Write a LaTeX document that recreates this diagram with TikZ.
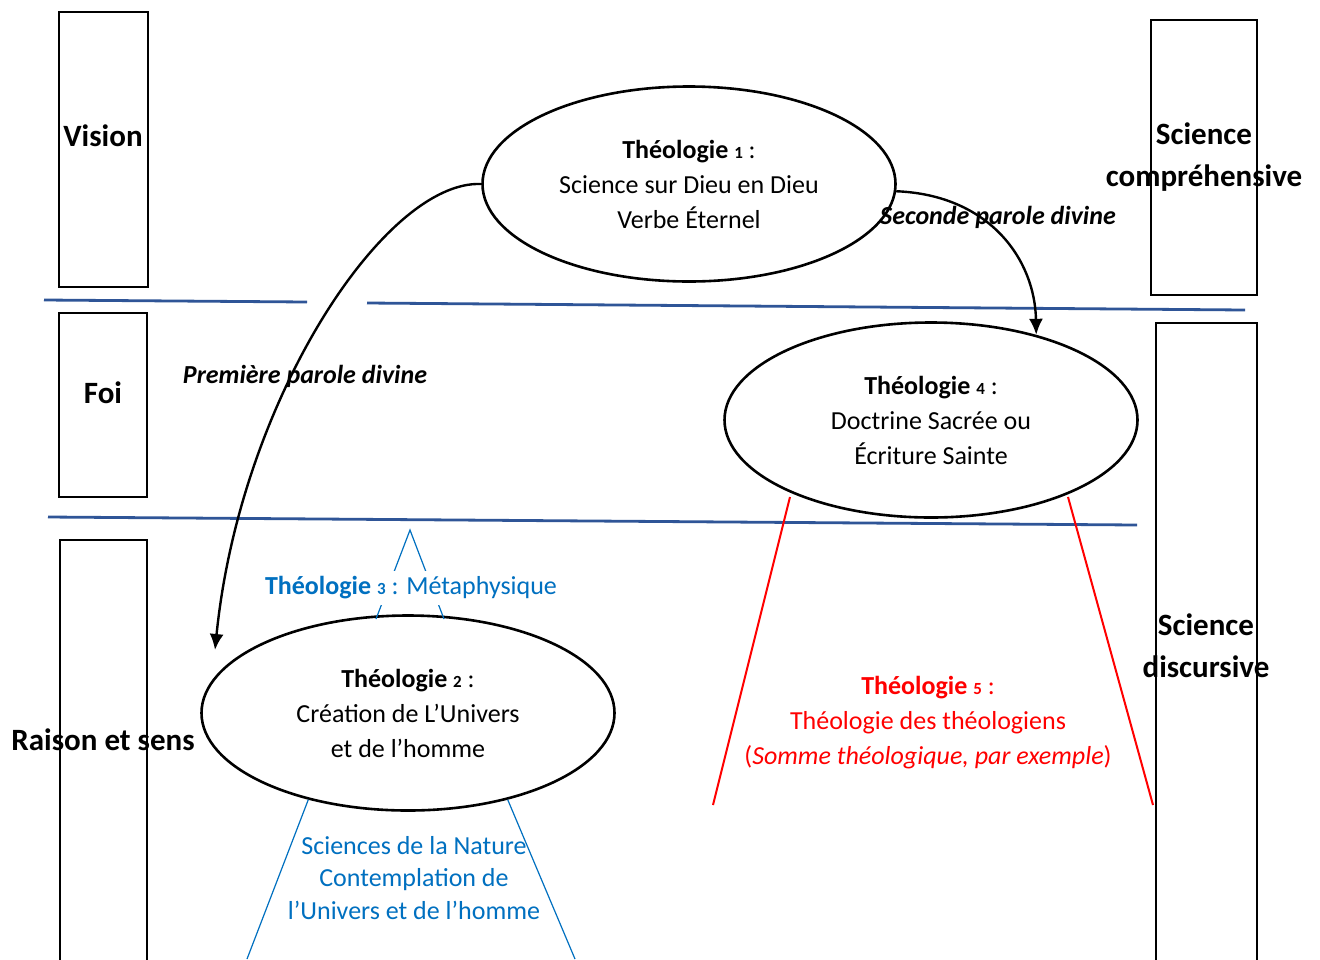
\documentclass[tikz,border=0pt]{standalone}
\usepackage{fontspec}
\setmainfont{Carlito}
\usetikzlibrary{shapes.geometric,arrows.meta}

\definecolor{lineblue}{RGB}{47,85,151}
\definecolor{textblue}{RGB}{0,112,192}
\newcommand{\theonum}[1]{{\fontsize{8.5}{10}\selectfont\bfseries #1}}

\tikzset{
  levelbox/.style = {draw, line width=1pt, rectangle, inner sep=0pt},
  levellabel/.style = {font=\fontsize{15.5}{21}\selectfont\bfseries, align=center, inner sep=0pt},
  theo/.style = {draw, line width=1.3pt, ellipse, minimum width=206.5pt, minimum height=97.5pt, align=center, font=\fontsize{13}{17.5}\selectfont},
  divider/.style = {draw=lineblue, line width=1.4pt},
  parole/.style = {font=\fontsize{13}{17.5}\selectfont\bfseries\itshape, inner sep=0pt},
  wordarrow/.style = {line width=1.2pt, -{Latex[length=8pt,width=7pt]}},
  branch/.style = {font=\fontsize{13}{16.3}\selectfont, align=center}
}

\begin{document}
\begin{tikzpicture}[x=0.5pt, y=-0.5pt]
\clip (0,0) rectangle (1320,959);
\fill[white] (0,0) rectangle (1320,959);

% levels on the left and on the right
\node[levelbox, minimum width=44.5pt, minimum height=137.5pt] (vision) at (103.5,149.5) {};
\node[levelbox, minimum width=44pt, minimum height=92pt] (foi) at (103,405) {};
\node[levelbox, minimum width=43.5pt, minimum height=220pt] (raison) at (103.5,760) {};
\node[levelbox, minimum width=53pt, minimum height=137.5pt] (scomp) at (1204,157.5) {};
\node[levelbox, minimum width=50.5pt, minimum height=328.5pt] (sdisc) at (1206.5,651.5) {};

\node[levellabel] (visionlabel) at (103,136) {Vision};
\node[levellabel] (foilabel) at (103,393) {Foi};
\node[levellabel] (raisonlabel) at (103,740) {Raison et sens};
\node[levellabel] (scomplabel) at (1204,157) {Science\\compréhensive};
\node[levellabel] (sdisclabel) at (1206,646) {Science\\discursive};

% dividers
\draw[divider] (44,300) -- (307,302);
\draw[divider] (367,303) -- (1245,310);
\draw[divider] (48,517) -- (1137,525);

% the theologies
\node[theo] (t1) at (689,184) {\textbf{Théologie} \theonum{1} :\\Science sur Dieu en Dieu\\Verbe Éternel};
\node[theo] (t4) at (931,420) {\textbf{Théologie} \theonum{4} :\\Doctrine Sacrée ou\\Écriture Sainte};
\node[theo] (t2) at (408,713) {\textbf{Théologie} \theonum{2} :\\Création de L’Univers\\et de l’homme};

% the two words
\coordinate (p1end) at (215,650);
\draw[wordarrow] (t1.west) .. controls (385,180) and (240,400) .. (p1end);
\draw[wordarrow] (t1.358) .. controls (990,195) and (1035,260) .. (t4.39);
\node[parole] (premiere) at (305,376) {Première parole divine};
\node[parole] (seconde) at (998,217) {Seconde parole divine};

% metaphysics above
\coordinate (apex) at (410,530);
\draw[textblue, line width=0.6pt] (376,619) -- (apex) -- (444,619);
\node[branch, text=textblue, fill=white, inner sep=3pt] (t3) at (411,588) {\textbf{Théologie} \theonum{3} : Métaphysique};

% sciences of nature below
\draw[textblue, line width=0.6pt] (t2.221) -- (247,959);
\draw[textblue, line width=0.6pt] (t2.319) -- (575,959);
\node[branch, text=textblue] (nature) at (414,878) {Sciences de la Nature\\Contemplation de\\l’Univers et de l’homme};

% theology of the theologians
\draw[red, line width=1pt] (790,497) -- (713,805);
\draw[red, line width=1pt] (1068,497) -- (1153,805);
\node[theo, draw=none, text=red] (t5) at (928,723) {\textbf{Théologie} \theonum{5} :\\Théologie des théologiens\\(\textit{Somme théologique, par exemple})};
\end{tikzpicture}
\end{document}
